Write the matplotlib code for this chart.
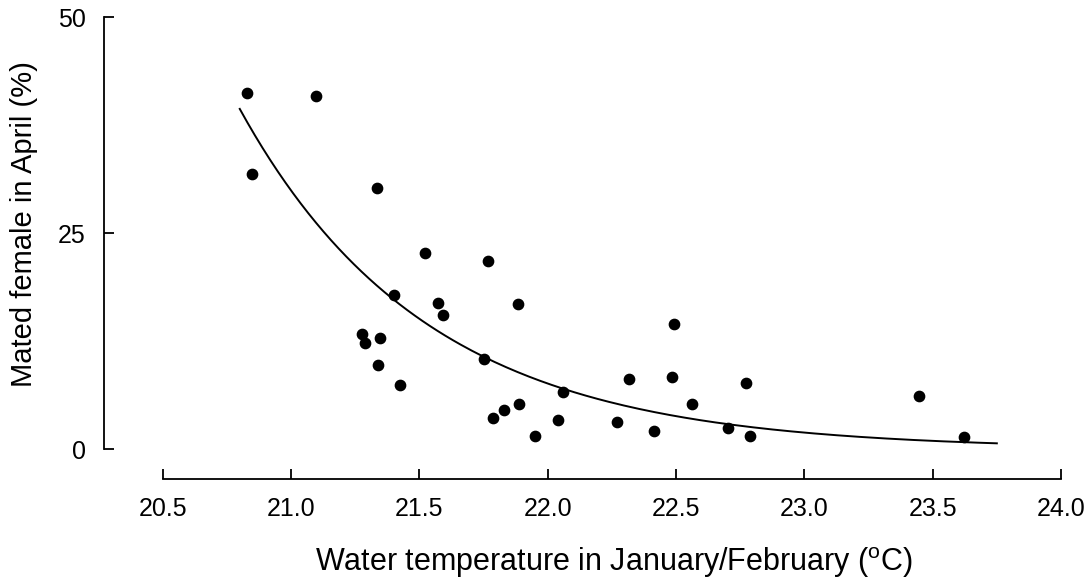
import numpy as np
import matplotlib
matplotlib.use("Agg")
import matplotlib.pyplot as plt

plt.rcParams['font.family'] = ['Liberation Sans', 'DejaVu Sans']
plt.rcParams['mathtext.fontset'] = 'custom'
plt.rcParams['mathtext.rm'] = 'Liberation Sans'

# Water temperature (Jan/Feb, °C) and mated females in April (%)
temp = [20.827, 20.849, 21.097, 21.336, 21.523, 21.766, 21.401, 21.574,
        21.883, 21.592, 21.278, 21.288, 21.347, 21.752, 21.340, 21.426,
        21.889, 21.830, 21.787, 21.950, 22.039, 22.061, 22.269, 22.317,
        22.414, 22.484, 22.492, 22.562, 22.703, 22.771, 22.788, 23.447,
        23.623]
mated = [41.2, 31.9, 40.9, 30.3, 22.7, 21.8, 17.9, 16.9,
         16.8, 15.5, 13.3, 12.3, 12.9, 10.5, 9.7, 7.4,
         5.2, 4.5, 3.6, 1.5, 3.4, 6.6, 3.2, 8.1,
         2.1, 8.4, 14.5, 5.2, 2.5, 7.7, 1.5, 6.2,
         1.4]

# exponential fit y = a * exp(-b * (x - x0))
fit_x0 = 20.8
fit_a = 39.4
fit_b = 1.37
fit_range = (20.8, 23.75)

xticks = [20.5, 21.0, 21.5, 22.0, 22.5, 23.0, 23.5, 24.0]
yticks = [0, 25, 50]

fig = plt.figure(figsize=(10.9, 5.83), dpi=100)
ax = fig.add_axes([0.0954, 0.1779, 0.9734 - 0.0954, 0.9703 - 0.1779])

xs = np.linspace(fit_range[0], fit_range[1], 200)
ax.plot(xs, fit_a * np.exp(-fit_b * (xs - fit_x0)), color='black', lw=1.4)
ax.scatter(temp, mated, s=55, color='black', zorder=3, clip_on=False)

ax.set_xlim(20.271, 24.0)
ax.set_ylim(-3.47, 50)
ax.spines['top'].set_visible(False)
ax.spines['right'].set_visible(False)
ax.spines['left'].set_bounds(0, 50)
ax.spines['bottom'].set_bounds(20.5, 24.0)
ax.spines['left'].set_linewidth(1.3)
ax.spines['bottom'].set_linewidth(1.3)

ax.set_xticks(xticks)
ax.set_xticklabels([f"{t:.1f}" for t in xticks])
ax.set_yticks(yticks)
ax.tick_params(direction='in', length=7, width=1.3, labelsize=18)
ax.tick_params(axis='x', pad=13)
ax.tick_params(axis='y', pad=13)

fig.text(315 / 1090, 1 - 571.5 / 583,
         r'Water temperature in January/February ($^{\mathrm{o}}$C)',
         fontsize=22, ha='left', va='baseline')
fig.text(32 / 1090, 1 - 224.5 / 583, 'Mated female in April (%)',
         fontsize=21, rotation=90, rotation_mode='anchor',
         ha='center', va='baseline')

plt.savefig("out.png", dpi=100)
plt.close()
